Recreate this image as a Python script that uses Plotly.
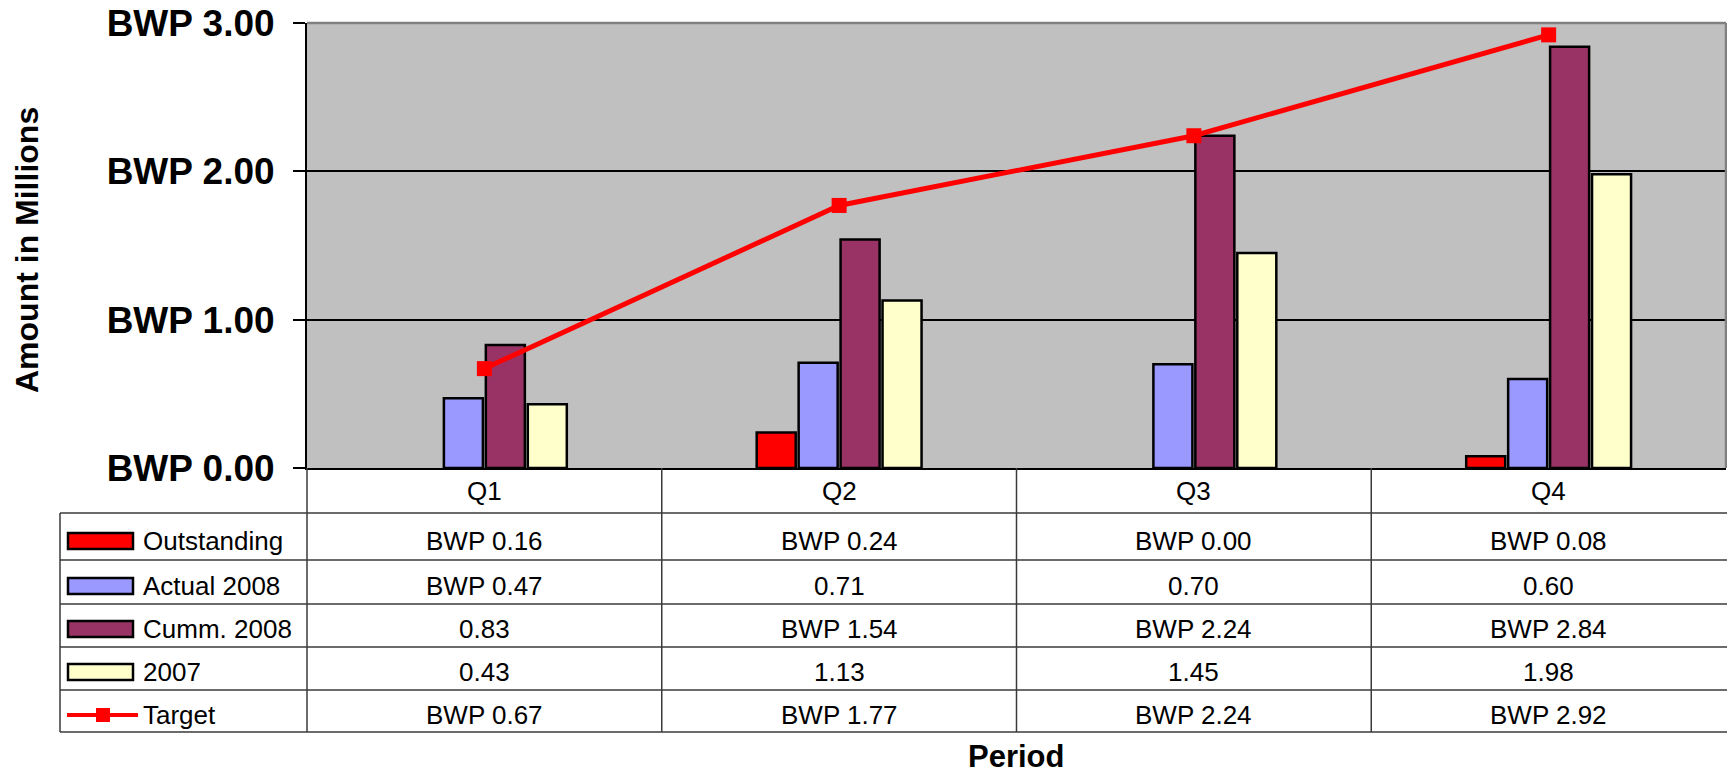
import plotly.graph_objects as go

# ---------------- data ----------------
categories = ["Q1", "Q2", "Q3", "Q4"]
outstanding = [0.16, 0.24, 0.00, 0.08]
# bars as drawn in the reference (no Q1 bar shown, Q3 is zero)
outstanding_drawn = [None, 0.24, None, 0.08]
actual_2008 = [0.47, 0.71, 0.70, 0.60]
cumm_2008 = [0.83, 1.54, 2.24, 2.84]
y2007 = [0.43, 1.13, 1.45, 1.98]
target = [0.67, 1.77, 2.24, 2.92]

series_names = ["Outstanding", "Actual 2008", "Cumm. 2008", "2007", "Target"]
table_values = [outstanding, actual_2008, cumm_2008, y2007, target]
# whether the table cell shows the "BWP " currency prefix
bwp_prefix = [
    [1, 1, 1, 1],
    [1, 0, 0, 0],
    [0, 1, 1, 1],
    [0, 0, 0, 0],
    [1, 1, 1, 1],
]
y_ticks = [0, 1, 2, 3]
y_tick_text = ["BWP 0.00", "BWP 1.00", "BWP 2.00", "BWP 3.00"]

# ---------------- styling ----------------
colors = ["#FF0000", "#9999FF", "#993366", "#FFFFCC"]
W, H = 1727, 776
PL, PR, PT, PB = 307, 1, 23, 308
plot_w = W - PL - PR
plot_h = H - PT - PB
FONT = "Liberation Sans, Arial, sans-serif"
TABLE_FS = 26


def px_x(x):
    return (x - PL) / plot_w


def px_y(y):
    return (H - PB - y) / plot_h


fig = go.Figure()
bar_data = [outstanding_drawn, actual_2008, cumm_2008, y2007]
for name, vals, col in zip(series_names[:4], bar_data, colors):
    fig.add_trace(go.Bar(
        x=categories, y=vals, name=name,
        marker=dict(color=col, line=dict(color="black", width=2.5)),
        showlegend=False,
    ))
fig.add_trace(go.Scatter(
    x=categories, y=target, name="Target", mode="lines+markers",
    line=dict(color="#FF0000", width=5),
    marker=dict(symbol="square", size=15, color="#FF0000"),
    showlegend=False,
))

shapes = []
# plot border (top & right gray)
shapes.append(dict(type="line", xref="paper", yref="paper", x0=0, x1=1, y0=1, y1=1,
                   line=dict(color="#808080", width=2.5)))
shapes.append(dict(type="line", xref="paper", yref="paper", x0=1, x1=1, y0=0, y1=1,
                   line=dict(color="#808080", width=2.5)))

# table grid
grid_col = "#3a3a3a"
row_lines = [513, 560, 604, 647, 690, 732]
for yy in row_lines:
    shapes.append(dict(type="line", xref="paper", yref="paper",
                       x0=px_x(60), x1=1.01, y0=px_y(yy), y1=px_y(yy),
                       line=dict(color=grid_col, width=1.5)))
shapes.append(dict(type="line", xref="paper", yref="paper",
                   x0=px_x(60), x1=px_x(60), y0=px_y(513), y1=px_y(732),
                   line=dict(color=grid_col, width=1.5)))
for i in range(len(categories)):
    xb = i / len(categories)
    shapes.append(dict(type="line", xref="paper", yref="paper",
                       x0=xb, x1=xb, y0=px_y(468), y1=px_y(732),
                       line=dict(color=grid_col, width=1.5)))

annotations = []
# header row: categories
for c in categories:
    annotations.append(dict(x=c, xref="x", y=px_y(491), yref="paper", text=c,
                            showarrow=False, xanchor="center", yanchor="middle",
                            font=dict(family=FONT, size=TABLE_FS, color="black")))

row_centers = [541, 586, 629, 672, 715]
for r, (name, vals, flags) in enumerate(zip(series_names, table_values, bwp_prefix)):
    yc = row_centers[r]
    # legend key
    if r < 4:
        shapes.append(dict(type="rect", xref="paper", yref="paper",
                           x0=px_x(68), x1=px_x(133), y0=px_y(yc - 8), y1=px_y(yc + 8),
                           fillcolor=colors[r], line=dict(color="black", width=2.5)))
    else:
        shapes.append(dict(type="line", xref="paper", yref="paper",
                           x0=px_x(67), x1=px_x(138), y0=px_y(yc), y1=px_y(yc),
                           line=dict(color="#FF0000", width=4)))
        shapes.append(dict(type="rect", xref="paper", yref="paper",
                           x0=px_x(96), x1=px_x(110), y0=px_y(yc - 7), y1=px_y(yc + 7),
                           fillcolor="#FF0000", line=dict(color="#FF0000", width=0)))
    annotations.append(dict(x=px_x(141), xref="paper", y=px_y(yc), yref="paper",
                            text=name, showarrow=False, xanchor="left", yanchor="middle",
                            font=dict(family=FONT, size=TABLE_FS, color="black")))
    for c, v, f in zip(categories, vals, flags):
        txt = ("BWP " if f else "") + f"{v:.2f}"
        annotations.append(dict(x=c, xref="x", y=px_y(yc), yref="paper", text=txt,
                                showarrow=False, xanchor="center", yanchor="middle",
                                font=dict(family=FONT, size=TABLE_FS, color="black")))

# axis titles
annotations.append(dict(x=px_x(27), xref="paper", y=px_y(250), yref="paper",
                        text="Amount in Millions", textangle=-90, showarrow=False,
                        xanchor="center", yanchor="middle",
                        font=dict(family=FONT, size=32, color="black", weight="bold")))
annotations.append(dict(x=px_x(1016), xref="paper", y=px_y(775), yref="paper",
                        text="Period", showarrow=False, borderpad=0,
                        xanchor="center", yanchor="bottom",
                        font=dict(family=FONT, size=31, color="black", weight="bold")))

fig.update_layout(
    width=W, height=H,
    margin=dict(l=PL, r=PR, t=PT, b=PB, pad=0),
    paper_bgcolor="white", plot_bgcolor="#C0C0C0",
    barmode="group", bargap=0.527, bargroupgap=0.07,
    shapes=shapes, annotations=annotations,
    xaxis=dict(type="category", range=[-0.5, 3.5], showticklabels=False,
               showgrid=False, zeroline=False, showline=True,
               linecolor="black", linewidth=2, ticks=""),
    yaxis=dict(range=[0, 3], tickvals=y_ticks, ticktext=y_tick_text,
               showgrid=True, gridcolor="black", gridwidth=1.5, zeroline=False,
               showline=True, linecolor="black", linewidth=2,
               ticks="outside", ticklen=12, tickcolor="black", tickwidth=1.5,
               ticklabelstandoff=11,
               tickfont=dict(family=FONT, size=37, color="black", weight="bold")),
)

fig.write_html(
    "out.html",
    config={"displayModeBar": False},
    post_script="document.body.style.margin='0';document.body.style.overflow='hidden';",
)
